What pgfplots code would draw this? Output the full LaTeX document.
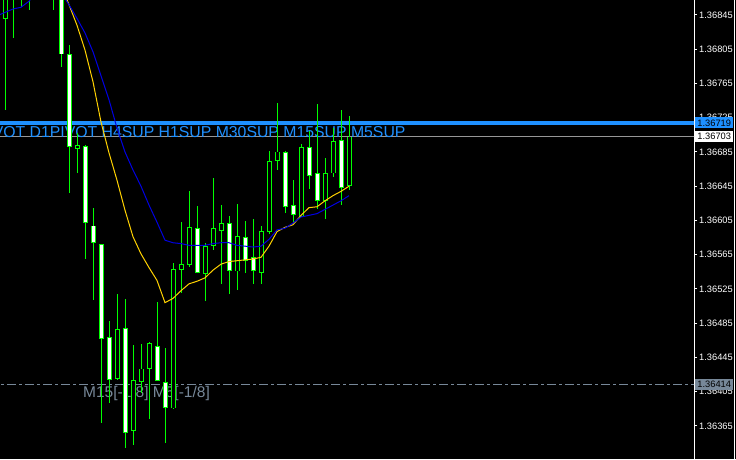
\documentclass[border=0pt]{standalone}
\usepackage{fontspec}
\setmainfont{Liberation Sans}
\usepackage{pgfplots}
\usepackage{pgfplotstable}
\pgfplotsset{compat=1.18}
\definecolor{cgreen}{RGB}{0,255,0}
\definecolor{cyellow}{RGB}{255,210,0}
\definecolor{cblue}{RGB}{0,0,225}
\definecolor{cdodger}{RGB}{30,144,255}
\definecolor{clgray}{RGB}{150,150,150}
\definecolor{cslate}{RGB}{119,136,153}
% candles: index, open, high, low, close
\pgfplotstableread{
i o h l c
0 1.36841 1.36880 1.36735 1.36872
1 1.36866 1.36898 1.36818 1.36886
2 1.36865 1.36892 1.36854 1.36880
3 1.36866 1.36892 1.36851 1.36886
6 1.36866 1.36892 1.36851 1.36886
9 1.36691 1.36708 1.36662 1.36694
14 1.36421 1.36519 1.36418 1.36479
16 1.36361 1.36460 1.36343 1.36419
17 1.36418 1.36461 1.36404 1.36433
18 1.36433 1.36464 1.36375 1.36462
21 1.36386 1.36555 1.36385 1.36548
22 1.36548 1.36604 1.36521 1.36554
23 1.36554 1.36641 1.36552 1.36597
25 1.36544 1.36580 1.36512 1.36575
26 1.36576 1.36656 1.36572 1.36596
27 1.36593 1.36624 1.36532 1.36601
29 1.36547 1.36624 1.36524 1.36587
32 1.36545 1.36600 1.36532 1.36593
33 1.36593 1.36687 1.36590 1.36674
34 1.36677 1.36743 1.36664 1.36687
37 1.36611 1.36694 1.36610 1.36692
40 1.36628 1.36679 1.36608 1.36660
41 1.36662 1.36713 1.36656 1.36699
43 1.36646 1.36728 1.36641 1.36703
}\bulls
\pgfplotstableread{
i o h l c
7 1.36886 1.36898 1.36784 1.36801
8 1.36799 1.36810 1.36637 1.36691
10 1.36693 1.36694 1.36561 1.36604
11 1.36600 1.36621 1.36513 1.36581
12 1.36578 1.36579 1.36370 1.36468
13 1.36469 1.36488 1.36392 1.36420
15 1.36479 1.36513 1.36339 1.36358
19 1.36458 1.36510 1.36418 1.36419
20 1.36416 1.36458 1.36347 1.36387
24 1.36597 1.36622 1.36544 1.36545
28 1.36601 1.36611 1.36520 1.36547
30 1.36587 1.36604 1.36544 1.36560
31 1.36562 1.36608 1.36532 1.36547
35 1.36686 1.36687 1.36614 1.36623
36 1.36622 1.36653 1.36603 1.36611
38 1.36692 1.36711 1.36643 1.36659
39 1.36660 1.36743 1.36620 1.36628
42 1.36699 1.36734 1.36623 1.36645
}\bears
\pgfplotsset{
  wick/.style={draw=none, mark=none, forget plot,
    error bars/.cd, y dir=both, y explicit, error mark=none,
    error bar style={draw=cgreen, line width=1pt}},
  body/.style 2 args={draw=none, mark=none, forget plot,
    error bars/.cd, y dir=both, y explicit, error mark=none,
    error bar style={draw=#1, line width=#2}},
}
\begin{document}
\begin{tikzpicture}
\fill[black] (0,0) rectangle (736pt,459pt);
\begin{axis}[
  at={(0,0)}, anchor=south west,
  scale only axis, width=694pt, height=459pt,
  xmin=-0.625, xmax=86.125, ymin=1.3632643, ymax=1.368625,
  hide x axis, axis y line*=right,
  y axis line style={white, line width=1pt},
  ytick={1.36325,1.36365,1.36405,1.36445,1.36485,1.36525,1.36565,1.36605,1.36645,1.36685,1.36725,1.36765,1.36805,1.36845},
  scaled y ticks=false,
  tick align=outside, major tick length=3pt,
  y tick style={white, line width=1pt},
  yticklabel pos=right,
  yticklabel style={text=white, font=\fontsize{9.3}{10}\selectfont, anchor=west, inner sep=0pt, xshift=2pt,
    /pgf/number format/.cd, fixed, precision=5, fixed zerofill, assume math mode=true},
  clip=true,
]
% levels
\addplot[cdodger, line width=3.5pt] coordinates {(-2,1.36719) (90,1.36719)};
\addplot[clgray, line width=1pt] coordinates {(-2,1.36703) (90,1.36703)};
\addplot[cslate, line width=1pt, dash pattern=on 9pt off 3pt on 3pt off 3pt] coordinates {(-2,1.36414) (90,1.36414)};
\node[anchor=base west, text=cdodger, inner sep=0pt, font=\fontsize{15.8}{18}\selectfont] at (axis cs:-1.55,1.36702) {VOT D1PIVOT H4SUP H1SUP M30SUP M15SUP M5SUP};
\node[anchor=base west, text=cslate, inner sep=0pt, font=\fontsize{15.5}{18}\selectfont] at (axis cs:9.75,1.36398) {M15[-1/8] M5[-1/8]};
% wicks
\addplot[wick] table[x=i, y expr={(\thisrow{h}+\thisrow{l})/2}, y error expr={(\thisrow{h}-\thisrow{l})/2}] {\bulls};
\addplot[wick] table[x=i, y expr={(\thisrow{h}+\thisrow{l})/2}, y error expr={(\thisrow{h}-\thisrow{l})/2}] {\bears};
% bodies: green outline, then fill
\addplot[body={cgreen}{5pt}] table[x=i, y expr={(\thisrow{o}+\thisrow{c})/2}, y error expr={abs(\thisrow{c}-\thisrow{o})/2+0.0000050}] {\bulls};
\addplot[body={cgreen}{5pt}] table[x=i, y expr={(\thisrow{o}+\thisrow{c})/2}, y error expr={abs(\thisrow{c}-\thisrow{o})/2+0.0000050}] {\bears};
\addplot[body={black}{3pt}] table[x=i, y expr={(\thisrow{o}+\thisrow{c})/2}, y error expr={max(abs(\thisrow{c}-\thisrow{o})/2-0.0000050,0)}] {\bulls};
\addplot[body={white}{3pt}] table[x=i, y expr={(\thisrow{o}+\thisrow{c})/2}, y error expr={max(abs(\thisrow{c}-\thisrow{o})/2-0.0000050,0)}] {\bears};
% moving averages
\addplot[cyellow, line width=1pt] coordinates {
(6,1.36909) (7,1.36881) (8,1.36857) (9,1.36833) (10,1.36804) (11,1.36767) (12,1.36720)
(13,1.36684) (14,1.36652) (15,1.36617) (16,1.36586) (17,1.36566) (18,1.36550) (19,1.36535)
(20,1.36509) (21,1.36514) (22,1.36523) (23,1.36531) (24,1.36534) (25,1.36538) (26,1.36547)
(27,1.36554) (28,1.36557) (29,1.36558) (30,1.36559) (31,1.36560) (32,1.36562) (33,1.36575)
(34,1.36592) (35,1.36597) (36,1.36600) (37,1.36611) (38,1.36620) (39,1.36621) (40,1.36628)
(41,1.36634) (42,1.36639) (43,1.36645)};
\addplot[cblue, line width=1pt] coordinates {
(-1,1.36844) (0,1.36848) (1,1.36852) (2,1.36854) (3,1.36861) (4,1.36874) (5,1.36880)
(6,1.36879) (7,1.36871) (8,1.36857) (9,1.36841) (10,1.36824) (11,1.36802) (12,1.36774)
(13,1.36746) (14,1.36713) (15,1.36685) (16,1.36664) (17,1.36645) (18,1.36623) (19,1.36603)
(20,1.36582) (21,1.36579) (22,1.36578) (23,1.36576) (24,1.36576) (25,1.36576) (26,1.36578)
(27,1.36579) (28,1.36579) (29,1.36576) (30,1.36575) (31,1.36574) (32,1.36575) (33,1.36583)
(34,1.36594) (35,1.36596) (36,1.36602) (37,1.36609) (38,1.36611) (39,1.36613) (40,1.36618)
(41,1.36623) (42,1.36628) (43,1.36634)};
\coordinate (pb) at (axis cs:86.125,1.36719);
\coordinate (pw) at (axis cs:86.125,1.36703);
\coordinate (ps) at (axis cs:86.125,1.36414);
\end{axis}
\node[fill=cdodger, text=black, anchor=west, minimum width=38pt, minimum height=11pt, inner sep=0pt, font=\fontsize{9.3}{10}\selectfont] at ([xshift=1pt]pb) {1.36719};
\node[fill=white, text=black, anchor=west, minimum width=38pt, minimum height=11pt, inner sep=0pt, font=\fontsize{9.3}{10}\selectfont] at ([xshift=1pt]pw) {1.36703};
\node[fill=cslate, text=black, anchor=west, minimum width=38pt, minimum height=11pt, inner sep=0pt, font=\fontsize{9.3}{10}\selectfont] at ([xshift=1pt]ps) {1.36414};
\draw[white, line width=1pt] (734.5pt,0) -- (734.5pt,459pt);
\pgfresetboundingbox
\path (0,0) rectangle (736pt,459pt);
\end{tikzpicture}
\end{document}
